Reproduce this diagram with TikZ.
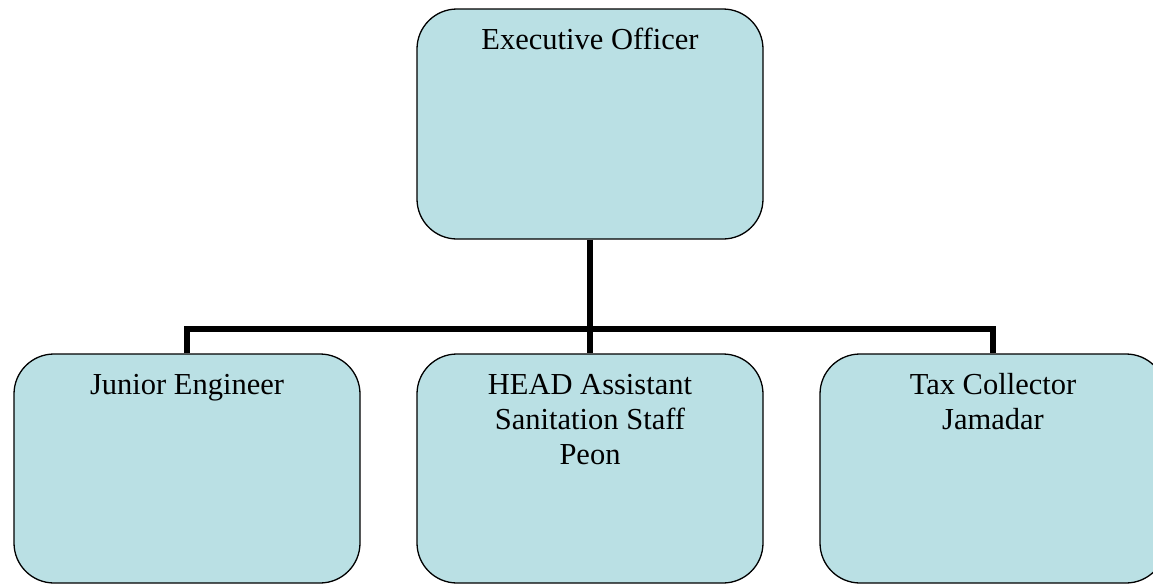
\documentclass[tikz,border=0pt]{standalone}
\usepackage{fontspec}
\setmainfont{Liberation Serif}
\definecolor{boxfill}{RGB}{186,224,228}
\newcommand{\firstline}{\rule{0pt}{25pt}}
\tikzset{
  orgbox/.style={draw=black, line width=1.3pt, fill=boxfill, rounded corners=40pt,
    minimum width=346pt, minimum height=230pt, inner sep=0pt},
  orgtext/.style={anchor=north, yshift=-16pt, align=center, inner sep=0pt,
    font=\fontsize{30.5pt}{35pt}\selectfont},
  conn/.style={draw=black, line width=6pt}
}
\begin{document}
\begin{tikzpicture}[x=1pt, y=-1pt]
  \useasboundingbox (0,0) rectangle (1153,584);
  % chart boxes
  \node[orgbox, label={[orgtext]north:\firstline Executive Officer}] (eo) at (590,124) {};
  \node[orgbox, minimum height=229pt, label={[orgtext]north:\firstline Junior Engineer}] (je) at (187,468.5) {};
  \node[orgbox, minimum height=229pt, label={[orgtext]north:{\firstline HEAD Assistant\\Sanitation Staff\\Peon}}] (ha) at (590,468.5) {};
  \node[orgbox, minimum height=229pt, label={[orgtext]north:{\firstline Tax Collector\\Jamadar}}] (tc) at (993,468.5) {};
  % connectors
  \draw[conn] (eo.south) -- (ha.north);
  \draw[conn] (je.north) -- ++(0,-24) -| (tc.north);
\end{tikzpicture}
\end{document}
